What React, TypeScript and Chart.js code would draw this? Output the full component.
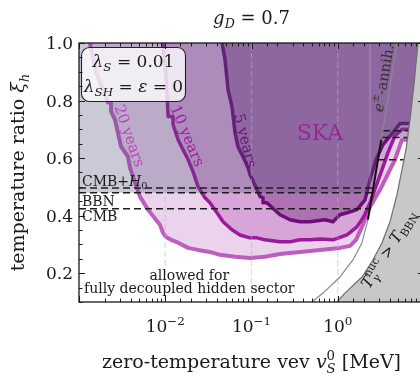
import React, { useEffect, useRef } from 'react';
import { Chart, registerables } from 'chart.js';

Chart.register(...registerables);

const SERIF = '"DejaVu Serif", serif';
const INK = '#1a1a1a';

type Pt = [number, number];

// SKA sensitivity boundaries: (v_S^0 [MeV], xi_h)
const ska20: Pt[] = [
  [0.00134, 1.0], [0.00157, 0.9], [0.00217, 0.793], [0.00235, 0.793], [0.00235, 0.762],
  [0.00261, 0.734], [0.00307, 0.64], [0.0037, 0.605], [0.0039, 0.567], [0.00446, 0.515],
  [0.00509, 0.466], [0.00631, 0.421], [0.00781, 0.386], [0.00869, 0.368], [0.00942, 0.34],
  [0.0102, 0.326], [0.0117, 0.316], [0.0141, 0.306], [0.0184, 0.288], [0.024, 0.281],
  [0.033, 0.274], [0.0431, 0.264], [0.0644, 0.257], [0.0961, 0.253], [0.143, 0.257],
  [0.214, 0.267], [0.365, 0.274], [0.622, 0.281], [1.06, 0.288], [1.39, 0.295],
  [1.63, 0.316], [1.91, 0.361], [2.37, 0.431], [3.09, 0.49], [4.61, 0.595],
  [5.56, 0.664], [6.4, 0.664], [10, 0.664],
];
const ska10: Pt[] = [
  [0.0094, 1.0], [0.0101, 0.9], [0.0108, 0.745], [0.0123, 0.745], [0.0123, 0.717],
  [0.0141, 0.664], [0.0156, 0.637], [0.0184, 0.595], [0.021, 0.553], [0.024, 0.501],
  [0.0289, 0.462], [0.033, 0.445], [0.0398, 0.41], [0.0468, 0.379], [0.0594, 0.351],
  [0.0736, 0.333], [0.0961, 0.323], [0.116, 0.323], [0.143, 0.316], [0.214, 0.309],
  [0.279, 0.309], [0.365, 0.316], [0.476, 0.316], [0.622, 0.319], [0.881, 0.316],
  [1.28, 0.333], [1.67, 0.361], [2.0, 0.396], [2.37, 0.445], [2.56, 0.473],
  [3.26, 0.56], [3.83, 0.62], [4.61, 0.678], [5.56, 0.7], [6.55, 0.7], [10, 0.7],
];
const ska5: Pt[] = [
  [0.0455, 1.0], [0.0493, 0.943], [0.0534, 0.839], [0.0594, 0.779], [0.0644, 0.689],
  [0.0697, 0.64], [0.0797, 0.605], [0.0911, 0.567], [0.0961, 0.543], [0.116, 0.49],
  [0.126, 0.466], [0.136, 0.462], [0.136, 0.445], [0.151, 0.445], [0.214, 0.403],
  [0.279, 0.386], [0.365, 0.379], [0.476, 0.379], [0.711, 0.386], [0.881, 0.379],
  [1.06, 0.403], [1.28, 0.41], [1.67, 0.421], [2.07, 0.455], [2.37, 0.525],
  [2.78, 0.595], [3.35, 0.647], [4.26, 0.685], [5.27, 0.72], [6.78, 0.72], [10, 0.72],
];

// T_gamma^nuc > T_BBN excluded region boundary
const nucBoundary: Pt[] = [
  [0.98, 0.1], [1.21, 0.131], [1.91, 0.187], [2.56, 0.246], [3.26, 0.306],
  [4.04, 0.379], [4.86, 0.473], [5.56, 0.56], [6.18, 0.63], [6.88, 0.734],
  [7.66, 0.856], [8.51, 1.0], [10, 1.25],
];

// e+e- annihilation line
const epemLine: Pt[] = [
  [0.502, 0.1], [0.675, 0.131], [1.06, 0.187], [1.5, 0.246], [1.91, 0.306],
  [2.24, 0.386], [2.56, 0.49], [2.93, 0.595], [3.35, 0.699], [4.04, 0.849], [4.86, 1.0],
];
const epemSolid: Pt[] = [[2.24, 0.386], [2.56, 0.49], [2.93, 0.595], [3.2, 0.664]];

// N_eff exclusion (shaded above)
const neffEdge: Pt[] = [[0.001, 0.48], [2.53, 0.48], [2.56, 0.49], [2.93, 0.595], [3.22, 0.672], [10, 0.672]];

// Bound lines before / after e+e- annihilation
const cmbH0Bound: Pt[][] = [[[0.001, 0.496], [2.58, 0.496]], [[3.33, 0.695], [6.62, 0.695]]];
const bbnBound: Pt[][] = [[[0.001, 0.48], [2.53, 0.48]], [[3.22, 0.672], [6.47, 0.672]]];
const cmbBound: Pt[][] = [[[0.001, 0.424], [2.36, 0.424]], [[2.93, 0.594], [5.86, 0.594]]];

const faintLine: Pt[] = [[2.37, 0.49], [2.37, 1.0]];
const gridDecades = [0.01, 0.1, 1];

const yTickValues = [0.2, 0.4, 0.6, 0.8, 1.0];
const yTickLabels = ['0.2', '0.4', '0.6', '0.8', '1.0'];
const xTickValues = [0.01, 0.1, 1];
const xTickExps = ['\u22122', '\u22121', '0'];

const pts = (a: Pt[]) => a.map(([x, y]) => ({ x, y }));

type Run = { t: string; it?: boolean; s?: number; dy?: number; stack?: boolean };
const SUB = { s: 0.7, dy: 0.24 };
const SUP = { s: 0.7, dy: -0.42 };

const fontOf = (it: boolean | undefined, px: number) => `${it ? 'italic ' : ''}${px}px ${SERIF}`;

function drawRich(
  ctx: CanvasRenderingContext2D,
  runs: Run[],
  x: number,
  y: number,
  size: number,
  o: { align?: 'left' | 'center' | 'right'; angle?: number; color?: string; middle?: boolean } = {}
) {
  const placed: { r: Run; sx: number; px: number }[] = [];
  let cur = 0;
  let prevStart = 0;
  for (const r of runs) {
    const px = size * (r.s ?? 1);
    ctx.font = fontOf(r.it, px);
    const w = ctx.measureText(r.t).width;
    if (r.stack) {
      placed.push({ r, sx: prevStart, px });
      cur = Math.max(cur, prevStart + w);
    } else {
      placed.push({ r, sx: cur, px });
      prevStart = cur;
      cur += w;
    }
  }
  const off = o.align === 'center' ? -cur / 2 : o.align === 'right' ? -cur : 0;
  ctx.save();
  ctx.translate(x, y);
  if (o.angle) ctx.rotate(o.angle);
  ctx.fillStyle = o.color ?? INK;
  ctx.textAlign = 'left';
  ctx.textBaseline = 'alphabetic';
  const base = o.middle ? size * 0.36 : 0;
  for (const p of placed) {
    ctx.font = fontOf(p.r.it, p.px);
    ctx.fillText(p.r.t, off + p.sx, base + (p.r.dy ?? 0) * size);
  }
  ctx.restore();
}

const deg = Math.PI / 180;

const decor = {
  id: 'decor',
  afterDatasetsDraw(chart: any) {
    const { ctx, chartArea: a, scales } = chart;
    const xs = scales.x;
    const ys = scales.y;
    const X = (v: number) => xs.getPixelForValue(v);
    const Y = (v: number) => ys.getPixelForValue(v);
    ctx.save();

    // parameter box
    ctx.beginPath();
    ctx.roundRect(a.left + 2.5, a.top + 4.5, 104, 54, 8);
    ctx.fillStyle = 'rgba(255,255,255,0.78)';
    ctx.fill();
    ctx.lineWidth = 1.1;
    ctx.strokeStyle = '#222';
    ctx.stroke();
    const bx = a.left + 54.5;
    drawRich(ctx, [{ t: '\u03bb', it: true }, { t: 'S', it: true, ...SUB }, { t: ' = 0.01' }], bx, a.top + 24, 17, { align: 'center' });
    drawRich(ctx, [{ t: '\u03bb', it: true }, { t: 'SH', it: true, ...SUB }, { t: ' = ' }, { t: '\u03b5', it: true }, { t: ' = 0' }], bx, a.top + 49, 17, { align: 'center' });

    // region labels
    drawRich(ctx, [{ t: '20 years' }], X(0.0036) + 3, Y(0.678), 15, { align: 'center', angle: 70.7 * deg, color: '#c13ec4', middle: true });
    drawRich(ctx, [{ t: '10 years' }], X(0.0169) + 3, Y(0.678), 15, { align: 'center', angle: 67 * deg, color: '#a4199f', middle: true });
    drawRich(ctx, [{ t: '5 years' }], X(0.0818) + 2, Y(0.661), 15, { align: 'center', angle: 76 * deg, color: '#6a1276', middle: true });
    drawRich(ctx, [{ t: 'SKA' }], X(0.622), Y(0.692), 22, { align: 'center', color: '#952894', middle: true });
    drawRich(ctx, [{ t: 'e', it: true }, { t: '\u00b1', ...SUP }, { t: '-annih.' }], X(3.35), Y(0.878), 14.5, { align: 'center', angle: -80.8 * deg, color: '#333', middle: true });
    drawRich(
      ctx,
      [{ t: 'T', it: true }, { t: 'nuc', ...SUP }, { t: '\u03b3', it: true, ...SUB, stack: true }, { t: ' > ' }, { t: 'T', it: true }, { t: 'BBN', ...SUB }],
      X(4.26) - 4, Y(0.281) - 1, 15.5, { align: 'center', angle: -58 * deg, middle: true }
    );

    drawRich(ctx, [{ t: 'CMB+' }, { t: 'H', it: true }, { t: '0', ...SUB }], a.left + 3, Y(0.496) - 2, 14);
    drawRich(ctx, [{ t: 'BBN' }], a.left + 3, Y(0.48) + 13, 14);
    drawRich(ctx, [{ t: 'CMB' }], a.left + 3, Y(0.424) + 12.5, 14);
    drawRich(ctx, [{ t: 'allowed for' }], X(0.019), Y(0.177), 14, { align: 'center' });
    drawRich(ctx, [{ t: 'fully decoupled hidden sector' }], X(0.019), Y(0.131), 14, { align: 'center' });

    // tick marks (inward, all four sides)
    ctx.strokeStyle = INK;
    ctx.lineWidth = 1;
    ctx.beginPath();
    for (const t of xs.ticks) {
      const lg = Math.log10(t.value);
      const major = Math.abs(lg - Math.round(lg)) < 1e-9;
      const len = major ? 6 : 3.5;
      const px = Math.round(X(t.value)) + 0.5;
      ctx.moveTo(px, a.bottom);
      ctx.lineTo(px, a.bottom - len);
      ctx.moveTo(px, a.top);
      ctx.lineTo(px, a.top + len);
    }
    for (const t of ys.ticks) {
      const q = t.value / 0.2;
      const major = Math.abs(q - Math.round(q)) < 1e-6;
      const len = major ? 6 : 3.5;
      const py = Math.round(Y(t.value)) + 0.5;
      ctx.moveTo(a.left, py);
      ctx.lineTo(a.left + len, py);
      ctx.moveTo(a.right, py);
      ctx.lineTo(a.right - len, py);
    }
    ctx.stroke();

    // frame
    ctx.lineWidth = 1.3;
    ctx.strokeRect(a.left, a.top, a.right - a.left, a.bottom - a.top);

    // tick labels
    yTickValues.forEach((v, i) => {
      drawRich(ctx, [{ t: yTickLabels[i] }], a.left - 6, Y(v), 17, { align: 'right', middle: true });
    });
    xTickValues.forEach((v, i) => {
      drawRich(ctx, [{ t: '10' }, { t: xTickExps[i], ...SUP }], X(v), 332, 17, { align: 'center' });
    });

    // axis titles and heading
    const cx = (a.left + a.right) / 2;
    drawRich(ctx, [{ t: 'g', it: true }, { t: 'D', it: true, ...SUB }, { t: ' = 0.7' }], cx, 24, 18, { align: 'center' });
    drawRich(
      ctx,
      [{ t: 'zero-temperature vev ' }, { t: 'v', it: true }, { t: 'S', it: true, ...SUB }, { t: '0', ...SUP, stack: true }, { t: ' [MeV]' }],
      cx, 368, 19, { align: 'center' }
    );
    drawRich(ctx, [{ t: 'temperature ratio ' }, { t: '\u03be', it: true }, { t: 'h', it: true, ...SUB }], 24, (a.top + a.bottom) / 2, 19, { align: 'center', angle: -90 * deg });

    ctx.restore();
  },
};

const base = { pointRadius: 0, tension: 0, clip: 0, borderJoinStyle: 'round' as const };
const fillOnly = { borderWidth: 0, borderColor: 'rgba(0,0,0,0)' };

export default function App() {
  const ref = useRef<HTMLCanvasElement>(null);

  useEffect(() => {
    const canvas = ref.current;
    if (!canvas) return;

    const datasets: any[] = [
      { ...base, data: pts(ska20), fill: 'end', backgroundColor: '#ebd3eb', borderColor: '#bd5ebf', borderWidth: 4, order: 100 },
      { ...base, data: pts(ska10), fill: 'end', backgroundColor: '#d7a5d8', borderColor: '#9b1a9b', borderWidth: 3.5, order: 90 },
      { ...base, data: pts(ska5), fill: 'end', backgroundColor: '#ad72b2', borderColor: '#6c0f78', borderWidth: 3.5, order: 80 },
      { ...base, ...fillOnly, data: pts(neffEdge), fill: 'end', backgroundColor: 'rgba(75,78,118,0.3)', order: 70 },
      { ...base, data: pts(faintLine), fill: false, borderColor: 'rgba(255,255,255,0.25)', borderWidth: 1, order: 65 },
      ...gridDecades.map((v) => ({
        ...base, data: pts([[v, 0.1], [v, 1.0]]), fill: false, borderColor: 'rgba(180,180,180,0.45)', borderWidth: 1.3, borderDash: [6, 3], order: 60,
      })),
      ...[...cmbH0Bound, ...bbnBound, ...cmbBound].map((seg) => ({
        ...base, data: pts(seg), fill: false, borderColor: '#1e1e1e', borderWidth: 1.5, borderDash: [7, 4], order: 50,
      })),
      { ...base, data: pts(epemLine), fill: false, borderColor: '#8a8a8a', borderWidth: 1.2, order: 45 },
      { ...base, data: pts(epemSolid), fill: false, borderColor: '#111', borderWidth: 2, order: 44 },
      { ...base, data: pts(nucBoundary), fill: 'start', backgroundColor: '#c8c8c8', borderColor: '#6e6e6e', borderWidth: 1.2, order: 40 },
    ];

    const chart = new Chart(canvas, {
      type: 'line',
      data: { datasets },
      options: {
        responsive: false,
        animation: false,
        devicePixelRatio: 1,
        events: [],
        layout: { padding: { left: 0, right: 6, top: 43, bottom: 0 } },
        plugins: { legend: { display: false }, tooltip: { enabled: false }, title: { display: false } },
        scales: {
          x: {
            type: 'logarithmic',
            min: 1e-3,
            max: 10,
            ticks: { display: false },
            grid: { display: false },
            border: { display: false },
            afterFit: (s: any) => { s.height = 74; },
          },
          y: {
            type: 'linear',
            min: 0.1,
            max: 1.0,
            ticks: { display: false, stepSize: 0.05 },
            grid: { display: false },
            border: { display: false },
            afterFit: (s: any) => { s.width = 79; },
          },
        },
      } as any,
      plugins: [decor],
    });
    return () => chart.destroy();
  }, []);

  return (
    <div style={{ position: 'fixed', left: 0, top: 0, width: 420, height: 376, overflow: 'hidden', background: '#fff' }}>
      <canvas ref={ref} width={430} height={376} style={{ display: 'block' }} />
    </div>
  );
}
